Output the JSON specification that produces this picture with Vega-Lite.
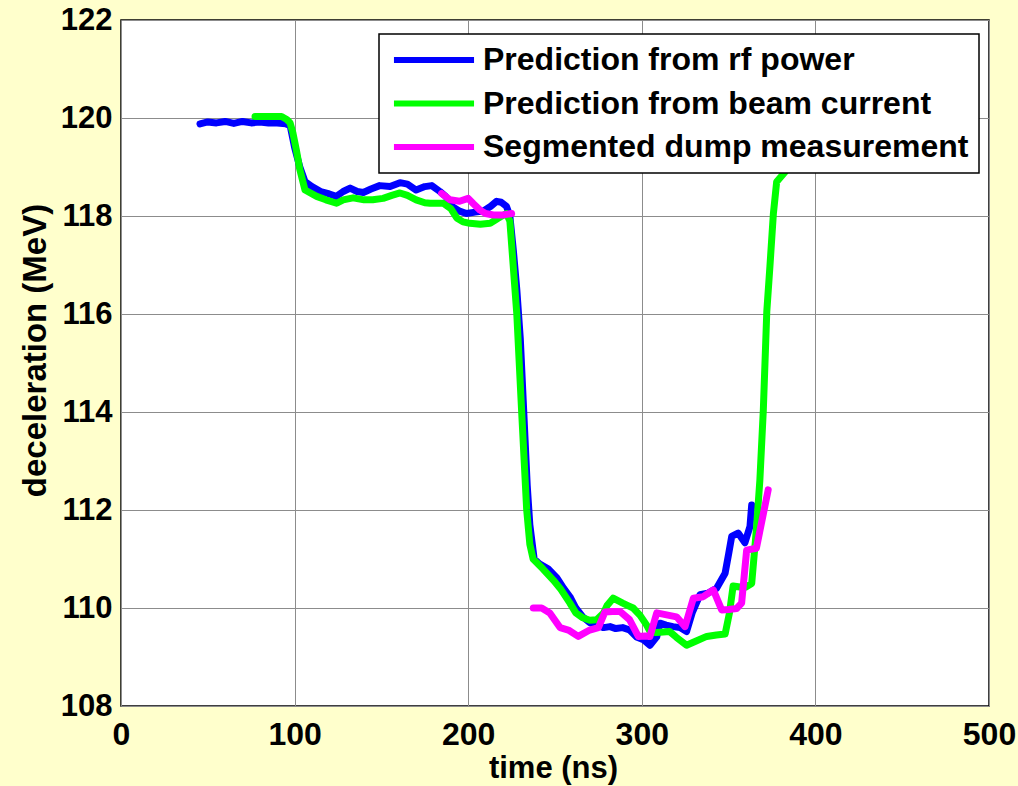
{
  "$schema": "https://vega.github.io/schema/vega-lite/v6.json",
  "autosize": {"type": "none"},
  "width": 868,
  "height": 686,
  "padding": {"left": 121, "top": 20, "right": 29, "bottom": 80},
  "background": "#FFFFCC",
  "config": {
    "view": {"fill": "white", "stroke": "black", "strokeWidth": 1.5},
    "axis": {
      "grid": true, "gridColor": "#8c8c8c", "gridWidth": 1, "gridOpacity": 1,
      "domain": false, "ticks": false,
      "labelColor": "black", "labelFontWeight": "bold", "labelFont": "Liberation Sans",
      "titleColor": "black", "titleFontWeight": "bold", "titleFont": "Liberation Sans",
      "labelFlush": false, "labelOverlap": false
    }
  },
  "data": {"values": [
    {"s":"Prediction from rf power","g":"a","t":45.5,"v":119.88},
    {"s":"Prediction from rf power","g":"a","t":50,"v":119.92},
    {"s":"Prediction from rf power","g":"a","t":55,"v":119.9},
    {"s":"Prediction from rf power","g":"a","t":60,"v":119.93},
    {"s":"Prediction from rf power","g":"a","t":65,"v":119.89},
    {"s":"Prediction from rf power","g":"a","t":70,"v":119.93},
    {"s":"Prediction from rf power","g":"a","t":75,"v":119.9},
    {"s":"Prediction from rf power","g":"a","t":80,"v":119.92},
    {"s":"Prediction from rf power","g":"a","t":85,"v":119.9},
    {"s":"Prediction from rf power","g":"a","t":90,"v":119.9},
    {"s":"Prediction from rf power","g":"a","t":95,"v":119.88},
    {"s":"Prediction from rf power","g":"a","t":97.4,"v":119.85},
    {"s":"Prediction from rf power","g":"a","t":100,"v":119.4},
    {"s":"Prediction from rf power","g":"a","t":103,"v":119.0},
    {"s":"Prediction from rf power","g":"a","t":106,"v":118.7},
    {"s":"Prediction from rf power","g":"a","t":110,"v":118.6},
    {"s":"Prediction from rf power","g":"a","t":115,"v":118.5},
    {"s":"Prediction from rf power","g":"a","t":120,"v":118.45},
    {"s":"Prediction from rf power","g":"a","t":124,"v":118.4},
    {"s":"Prediction from rf power","g":"a","t":128,"v":118.5},
    {"s":"Prediction from rf power","g":"a","t":132,"v":118.57},
    {"s":"Prediction from rf power","g":"a","t":136,"v":118.5},
    {"s":"Prediction from rf power","g":"a","t":139.6,"v":118.48},
    {"s":"Prediction from rf power","g":"a","t":144,"v":118.55},
    {"s":"Prediction from rf power","g":"a","t":149,"v":118.62},
    {"s":"Prediction from rf power","g":"a","t":155,"v":118.6},
    {"s":"Prediction from rf power","g":"a","t":160.7,"v":118.68},
    {"s":"Prediction from rf power","g":"a","t":165,"v":118.65},
    {"s":"Prediction from rf power","g":"a","t":170,"v":118.53},
    {"s":"Prediction from rf power","g":"a","t":175,"v":118.6},
    {"s":"Prediction from rf power","g":"a","t":179,"v":118.62},
    {"s":"Prediction from rf power","g":"a","t":183.7,"v":118.5},
    {"s":"Prediction from rf power","g":"a","t":187,"v":118.4},
    {"s":"Prediction from rf power","g":"a","t":191,"v":118.19},
    {"s":"Prediction from rf power","g":"a","t":195,"v":118.1},
    {"s":"Prediction from rf power","g":"a","t":199,"v":118.05},
    {"s":"Prediction from rf power","g":"a","t":204,"v":118.08},
    {"s":"Prediction from rf power","g":"a","t":208.6,"v":118.1},
    {"s":"Prediction from rf power","g":"a","t":213,"v":118.2},
    {"s":"Prediction from rf power","g":"a","t":216.4,"v":118.3},
    {"s":"Prediction from rf power","g":"a","t":219,"v":118.28},
    {"s":"Prediction from rf power","g":"a","t":222,"v":118.2},
    {"s":"Prediction from rf power","g":"a","t":224,"v":118.0},
    {"s":"Prediction from rf power","g":"a","t":226,"v":117.3},
    {"s":"Prediction from rf power","g":"a","t":228,"v":116.5},
    {"s":"Prediction from rf power","g":"a","t":230,"v":115.5},
    {"s":"Prediction from rf power","g":"a","t":232,"v":114.0},
    {"s":"Prediction from rf power","g":"a","t":234,"v":112.5},
    {"s":"Prediction from rf power","g":"a","t":235.5,"v":111.7},
    {"s":"Prediction from rf power","g":"a","t":238,"v":111.0},
    {"s":"Prediction from rf power","g":"a","t":241,"v":110.9},
    {"s":"Prediction from rf power","g":"a","t":246,"v":110.8},
    {"s":"Prediction from rf power","g":"a","t":251,"v":110.62},
    {"s":"Prediction from rf power","g":"a","t":255,"v":110.4},
    {"s":"Prediction from rf power","g":"a","t":258.6,"v":110.23},
    {"s":"Prediction from rf power","g":"a","t":262,"v":110.0},
    {"s":"Prediction from rf power","g":"a","t":266,"v":109.82},
    {"s":"Prediction from rf power","g":"a","t":270,"v":109.7},
    {"s":"Prediction from rf power","g":"a","t":274,"v":109.65},
    {"s":"Prediction from rf power","g":"a","t":278,"v":109.6},
    {"s":"Prediction from rf power","g":"a","t":281.7,"v":109.62},
    {"s":"Prediction from rf power","g":"a","t":285,"v":109.58},
    {"s":"Prediction from rf power","g":"a","t":289,"v":109.6},
    {"s":"Prediction from rf power","g":"a","t":293,"v":109.55},
    {"s":"Prediction from rf power","g":"a","t":297,"v":109.41},
    {"s":"Prediction from rf power","g":"a","t":301,"v":109.35},
    {"s":"Prediction from rf power","g":"a","t":304.7,"v":109.24},
    {"s":"Prediction from rf power","g":"a","t":308.6,"v":109.41},
    {"s":"Prediction from rf power","g":"a","t":310.5,"v":109.69},
    {"s":"Prediction from rf power","g":"a","t":314,"v":109.65},
    {"s":"Prediction from rf power","g":"a","t":318,"v":109.62},
    {"s":"Prediction from rf power","g":"a","t":322,"v":109.6},
    {"s":"Prediction from rf power","g":"a","t":325.8,"v":109.52},
    {"s":"Prediction from rf power","g":"a","t":329,"v":109.9},
    {"s":"Prediction from rf power","g":"a","t":333.5,"v":110.27},
    {"s":"Prediction from rf power","g":"a","t":338,"v":110.3},
    {"s":"Prediction from rf power","g":"a","t":343,"v":110.4},
    {"s":"Prediction from rf power","g":"a","t":348,"v":110.71},
    {"s":"Prediction from rf power","g":"a","t":350,"v":111.1},
    {"s":"Prediction from rf power","g":"a","t":351.8,"v":111.46},
    {"s":"Prediction from rf power","g":"a","t":355.5,"v":111.53},
    {"s":"Prediction from rf power","g":"a","t":359.4,"v":111.33},
    {"s":"Prediction from rf power","g":"a","t":362.3,"v":111.66},
    {"s":"Prediction from rf power","g":"a","t":363.3,"v":112.1},
    {"s":"Prediction from beam current","g":"b","t":77.2,"v":120.03},
    {"s":"Prediction from beam current","g":"b","t":85,"v":120.03},
    {"s":"Prediction from beam current","g":"b","t":92.5,"v":120.03},
    {"s":"Prediction from beam current","g":"b","t":95.5,"v":119.97},
    {"s":"Prediction from beam current","g":"b","t":97.4,"v":119.9},
    {"s":"Prediction from beam current","g":"b","t":99,"v":119.7},
    {"s":"Prediction from beam current","g":"b","t":101,"v":119.35},
    {"s":"Prediction from beam current","g":"b","t":103,"v":118.95},
    {"s":"Prediction from beam current","g":"b","t":106,"v":118.53},
    {"s":"Prediction from beam current","g":"b","t":112.7,"v":118.4},
    {"s":"Prediction from beam current","g":"b","t":118,"v":118.33},
    {"s":"Prediction from beam current","g":"b","t":124.2,"v":118.26},
    {"s":"Prediction from beam current","g":"b","t":128,"v":118.33},
    {"s":"Prediction from beam current","g":"b","t":133.7,"v":118.37},
    {"s":"Prediction from beam current","g":"b","t":140,"v":118.33},
    {"s":"Prediction from beam current","g":"b","t":145,"v":118.33},
    {"s":"Prediction from beam current","g":"b","t":151,"v":118.36},
    {"s":"Prediction from beam current","g":"b","t":156,"v":118.42},
    {"s":"Prediction from beam current","g":"b","t":160.7,"v":118.47},
    {"s":"Prediction from beam current","g":"b","t":165,"v":118.42},
    {"s":"Prediction from beam current","g":"b","t":170,"v":118.33},
    {"s":"Prediction from beam current","g":"b","t":175,"v":118.27},
    {"s":"Prediction from beam current","g":"b","t":178,"v":118.26},
    {"s":"Prediction from beam current","g":"b","t":185.6,"v":118.26},
    {"s":"Prediction from beam current","g":"b","t":190,"v":118.15},
    {"s":"Prediction from beam current","g":"b","t":193.4,"v":117.96},
    {"s":"Prediction from beam current","g":"b","t":197,"v":117.88},
    {"s":"Prediction from beam current","g":"b","t":201,"v":117.85},
    {"s":"Prediction from beam current","g":"b","t":207,"v":117.83},
    {"s":"Prediction from beam current","g":"b","t":212.6,"v":117.85},
    {"s":"Prediction from beam current","g":"b","t":217,"v":117.95},
    {"s":"Prediction from beam current","g":"b","t":222,"v":118.05},
    {"s":"Prediction from beam current","g":"b","t":224,"v":117.9},
    {"s":"Prediction from beam current","g":"b","t":228,"v":116.0},
    {"s":"Prediction from beam current","g":"b","t":230.8,"v":114.0},
    {"s":"Prediction from beam current","g":"b","t":233.7,"v":112.0},
    {"s":"Prediction from beam current","g":"b","t":235.5,"v":111.3},
    {"s":"Prediction from beam current","g":"b","t":237.4,"v":111.0},
    {"s":"Prediction from beam current","g":"b","t":243,"v":110.8},
    {"s":"Prediction from beam current","g":"b","t":249,"v":110.57},
    {"s":"Prediction from beam current","g":"b","t":253,"v":110.4},
    {"s":"Prediction from beam current","g":"b","t":258.6,"v":110.1},
    {"s":"Prediction from beam current","g":"b","t":262,"v":109.9},
    {"s":"Prediction from beam current","g":"b","t":266,"v":109.8},
    {"s":"Prediction from beam current","g":"b","t":270,"v":109.75},
    {"s":"Prediction from beam current","g":"b","t":274,"v":109.76},
    {"s":"Prediction from beam current","g":"b","t":278,"v":109.9},
    {"s":"Prediction from beam current","g":"b","t":280,"v":110.05},
    {"s":"Prediction from beam current","g":"b","t":283.5,"v":110.2},
    {"s":"Prediction from beam current","g":"b","t":289,"v":110.1},
    {"s":"Prediction from beam current","g":"b","t":292,"v":110.05},
    {"s":"Prediction from beam current","g":"b","t":295,"v":110.0},
    {"s":"Prediction from beam current","g":"b","t":299,"v":109.85},
    {"s":"Prediction from beam current","g":"b","t":302.8,"v":109.65},
    {"s":"Prediction from beam current","g":"b","t":305,"v":109.5},
    {"s":"Prediction from beam current","g":"b","t":308.6,"v":109.5},
    {"s":"Prediction from beam current","g":"b","t":316,"v":109.52},
    {"s":"Prediction from beam current","g":"b","t":320,"v":109.4},
    {"s":"Prediction from beam current","g":"b","t":325.8,"v":109.24},
    {"s":"Prediction from beam current","g":"b","t":331,"v":109.32},
    {"s":"Prediction from beam current","g":"b","t":337.4,"v":109.42},
    {"s":"Prediction from beam current","g":"b","t":343,"v":109.45},
    {"s":"Prediction from beam current","g":"b","t":348,"v":109.47},
    {"s":"Prediction from beam current","g":"b","t":350.5,"v":109.9},
    {"s":"Prediction from beam current","g":"b","t":352.6,"v":110.45},
    {"s":"Prediction from beam current","g":"b","t":356.6,"v":110.43},
    {"s":"Prediction from beam current","g":"b","t":360,"v":110.43},
    {"s":"Prediction from beam current","g":"b","t":363.3,"v":110.5},
    {"s":"Prediction from beam current","g":"b","t":366,"v":111.6},
    {"s":"Prediction from beam current","g":"b","t":368,"v":112.6},
    {"s":"Prediction from beam current","g":"b","t":370,"v":114.04},
    {"s":"Prediction from beam current","g":"b","t":372,"v":116.05},
    {"s":"Prediction from beam current","g":"b","t":373.8,"v":116.97},
    {"s":"Prediction from beam current","g":"b","t":375.8,"v":118.05},
    {"s":"Prediction from beam current","g":"b","t":377.7,"v":118.7},
    {"s":"Prediction from beam current","g":"b","t":382.5,"v":118.9},
    {"s":"Prediction from beam current","g":"b","t":388,"v":119.3},
    {"s":"Segmented dump measurement","g":"c1","t":184.7,"v":118.46},
    {"s":"Segmented dump measurement","g":"c1","t":189.5,"v":118.33},
    {"s":"Segmented dump measurement","g":"c1","t":195,"v":118.3},
    {"s":"Segmented dump measurement","g":"c1","t":200,"v":118.36},
    {"s":"Segmented dump measurement","g":"c1","t":203,"v":118.25},
    {"s":"Segmented dump measurement","g":"c1","t":206.8,"v":118.12},
    {"s":"Segmented dump measurement","g":"c1","t":210,"v":118.05},
    {"s":"Segmented dump measurement","g":"c1","t":214.5,"v":118.02},
    {"s":"Segmented dump measurement","g":"c1","t":220,"v":118.02},
    {"s":"Segmented dump measurement","g":"c1","t":225,"v":118.05},
    {"s":"Segmented dump measurement","g":"c2","t":237.5,"v":110.0},
    {"s":"Segmented dump measurement","g":"c2","t":242.3,"v":110.0},
    {"s":"Segmented dump measurement","g":"c2","t":247,"v":109.9},
    {"s":"Segmented dump measurement","g":"c2","t":252.9,"v":109.6},
    {"s":"Segmented dump measurement","g":"c2","t":257.7,"v":109.55},
    {"s":"Segmented dump measurement","g":"c2","t":263.4,"v":109.42},
    {"s":"Segmented dump measurement","g":"c2","t":270,"v":109.55},
    {"s":"Segmented dump measurement","g":"c2","t":275,"v":109.6},
    {"s":"Segmented dump measurement","g":"c2","t":278.8,"v":109.92},
    {"s":"Segmented dump measurement","g":"c2","t":283,"v":109.93},
    {"s":"Segmented dump measurement","g":"c2","t":287.4,"v":109.93},
    {"s":"Segmented dump measurement","g":"c2","t":293,"v":109.76},
    {"s":"Segmented dump measurement","g":"c2","t":298,"v":109.42},
    {"s":"Segmented dump measurement","g":"c2","t":301.8,"v":109.43},
    {"s":"Segmented dump measurement","g":"c2","t":304.7,"v":109.42},
    {"s":"Segmented dump measurement","g":"c2","t":308.6,"v":109.9},
    {"s":"Segmented dump measurement","g":"c2","t":314.3,"v":109.86},
    {"s":"Segmented dump measurement","g":"c2","t":320,"v":109.82},
    {"s":"Segmented dump measurement","g":"c2","t":324.9,"v":109.62},
    {"s":"Segmented dump measurement","g":"c2","t":329.7,"v":110.2},
    {"s":"Segmented dump measurement","g":"c2","t":335.4,"v":110.23},
    {"s":"Segmented dump measurement","g":"c2","t":341.2,"v":110.37},
    {"s":"Segmented dump measurement","g":"c2","t":346,"v":109.96},
    {"s":"Segmented dump measurement","g":"c2","t":350,"v":109.97},
    {"s":"Segmented dump measurement","g":"c2","t":354.6,"v":109.99},
    {"s":"Segmented dump measurement","g":"c2","t":357.5,"v":110.1},
    {"s":"Segmented dump measurement","g":"c2","t":360.4,"v":111.18},
    {"s":"Segmented dump measurement","g":"c2","t":366,"v":111.22},
    {"s":"Segmented dump measurement","g":"c2","t":372.8,"v":112.41}
  ]},
  "mark": {"type": "line", "strokeWidth": 7, "strokeCap": "round", "strokeJoin": "round", "clip": true},
  "encoding": {
    "x": {
      "field": "t", "type": "quantitative",
      "scale": {"domain": [0, 500], "nice": false, "zero": false},
      "axis": {
        "values": [0, 100, 200, 300, 400, 500],
        "title": "time (ns)",
        "labelFontSize": 32, "labelPadding": 13,
        "titleFontSize": 31,
        "titleX": 432, "titleY": 62, "titleBaseline": "middle", "titleAlign": "center"
      }
    },
    "y": {
      "field": "v", "type": "quantitative",
      "scale": {"domain": [108, 122], "nice": false, "zero": false},
      "axis": {
        "values": [108, 110, 112, 114, 116, 118, 120, 122],
        "title": "deceleration (MeV)",
        "labelFontSize": 31, "labelPadding": 9,
        "titleFontSize": 33,
        "titleX": -86, "titleY": 330, "titleBaseline": "middle", "titleAlign": "center", "titleAngle": -90
      }
    },
    "color": {
      "field": "s", "type": "nominal",
      "scale": {
        "domain": ["Prediction from rf power", "Prediction from beam current", "Segmented dump measurement"],
        "range": ["#0000FF", "#00FF00", "#FF00FF"]
      },
      "legend": {
        "title": null, "orient": "none", "legendX": 258, "legendY": 14,
        "fillColor": "white", "strokeColor": "black",
        "padding": 10,
        "symbolType": "M-3.08,0H3.08", "symbolSize": 676, "symbolStrokeWidth": 6, "symbolOffset": 29,
        "labelFont": "Liberation Sans", "labelFontWeight": "bold", "labelFontSize": 32,
        "labelColor": "black", "labelOffset": 33, "rowPadding": 11.5, "labelLimit": 700,
        "encode": {"legend": {"update": {"strokeWidth": {"value": 1.5}}}}
      }
    },
    "detail": {"field": "g", "type": "nominal"},
    "order": {"field": "t", "type": "quantitative"}
  }
}
